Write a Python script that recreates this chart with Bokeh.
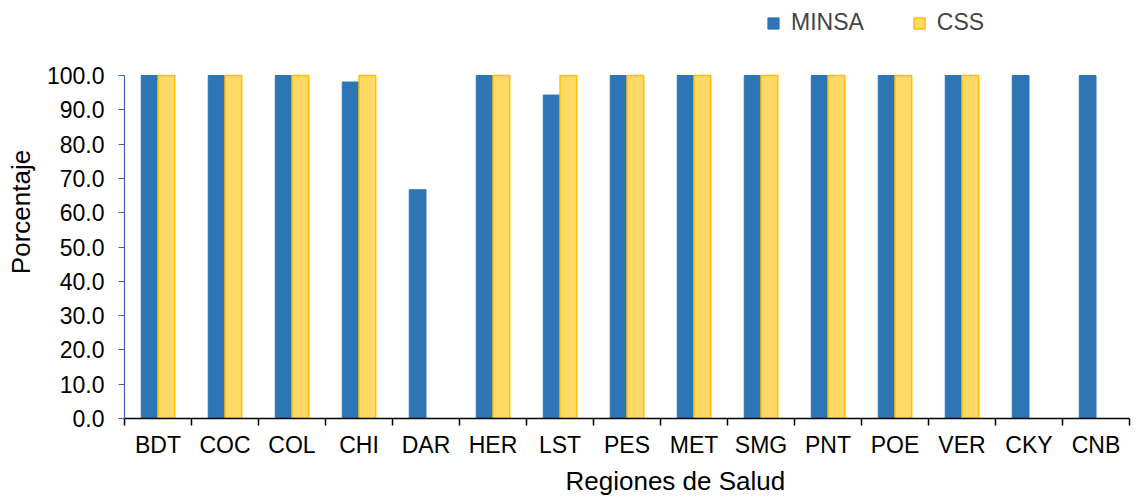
import numpy as np
from bokeh.plotting import figure
from bokeh.models import ColumnDataSource, FixedTicker, Legend, LegendItem, Range1d, Title
from bokeh.embed import file_html
from bokeh.resources import INLINE

categories = ["BDT", "COC", "COL", "CHI", "DAR", "HER", "LST", "PES", "MET", "SMG", "PNT", "POE", "VER", "CKY", "CNB"]
minsa = [100.0, 100.0, 100.0, 98.1, 66.7, 100.0, 94.3, 100.0, 100.0, 100.0, 100.0, 100.0, 100.0, 100.0, 100.0]
css = [100.0, 100.0, 100.0, 100.0, np.nan, 100.0, 100.0, 100.0, 100.0, 100.0, 100.0, 100.0, 100.0, np.nan, np.nan]
y_ticks = [0, 10, 20, 30, 40, 50, 60, 70, 80, 90, 100]
x_title = "Regiones de Salud"
y_title = "Porcentaje"

FONT = "Liberation Sans"
idx = np.arange(len(categories))
centers = idx + 0.5
bw = 0.25

src = ColumnDataSource(dict(
    xm=centers - bw / 2, xc=centers + bw / 2,
    minsa=minsa, css=css,
))

# frame top at 5px, 0..100 spans 343px -> room above 100 for the legend
TOP, BOTTOM = 5, 418
y_end = 100 * (BOTTOM - TOP) / 343.0

p = figure(width=1138, height=498, output_backend="svg", toolbar_location=None,
           x_range=Range1d(0, len(categories)), y_range=Range1d(0, y_end),
           min_border_left=124, min_border_right=9, min_border_top=TOP, min_border_bottom=498 - BOTTOM)
p.outline_line_color = None
p.xgrid.grid_line_color = None
p.ygrid.grid_line_color = None

r1 = p.vbar(x="xm", top="minsa", width=bw, source=src, fill_color="#2E75B6", line_color="#2E75B6")
r2 = p.vbar(x="xc", top="css", width=bw, source=src, fill_color="#FFD966", line_color="#FFC000", line_width=1.5)

# x axis: labels at centers, ticks at category boundaries (minor ticks)
p.xaxis.ticker = FixedTicker(ticks=list(centers), minor_ticks=list(idx) + [len(categories)])
p.xaxis.major_label_overrides = {float(c): cat for c, cat in zip(centers, categories)}
p.xaxis.major_tick_line_color = None
p.xaxis.major_tick_out = 7
p.xaxis.minor_tick_out = 7
p.xaxis.minor_tick_in = 0
p.xaxis.minor_tick_line_color = "black"
p.xaxis.minor_tick_line_width = 1.5
p.xaxis.axis_line_color = "black"
p.xaxis.axis_line_width = 1.5
p.xaxis.major_label_standoff = 6

p.yaxis.ticker = FixedTicker(ticks=y_ticks, minor_ticks=[])
p.yaxis.bounds = (0, 100)
p.yaxis.major_label_overrides = {t: f"{t:.1f}" for t in y_ticks}
p.yaxis.axis_line_color = "#3F5FA8"
p.yaxis.axis_line_width = 1.2
p.yaxis.major_tick_line_color = "#3F5FA8"
p.yaxis.major_tick_out = 6
p.yaxis.major_tick_in = 0
p.yaxis.axis_label = y_title
p.yaxis.major_label_standoff = 14

for ax in (p.xaxis, p.yaxis):
    ax.major_label_text_font = FONT
    ax.major_label_text_font_size = "23px"
    ax.major_label_text_color = "black"
    ax.axis_label_text_font = FONT
    ax.axis_label_text_font_size = "26px"
    ax.axis_label_text_font_style = "normal"
    ax.axis_label_text_color = "black"
p.yaxis.axis_label_standoff = 8

xt = Title(text=x_title, align="left", offset=441, standoff=6,
           text_font=FONT, text_font_size="26px", text_font_style="normal", text_color="black")
p.add_layout(xt, "below")

legend = Legend(items=[LegendItem(label="MINSA", renderers=[r1]), LegendItem(label="CSS", renderers=[r2])],
                orientation="horizontal", location=(642, 382),
                label_text_font=FONT, label_text_font_size="23px",
                glyph_width=14, glyph_height=14, spacing=48, label_standoff=11,
                padding=8, margin=0,
                border_line_color=None, background_fill_alpha=0)
p.add_layout(legend, "center")

open("out.html", "w").write(file_html(p, INLINE))
